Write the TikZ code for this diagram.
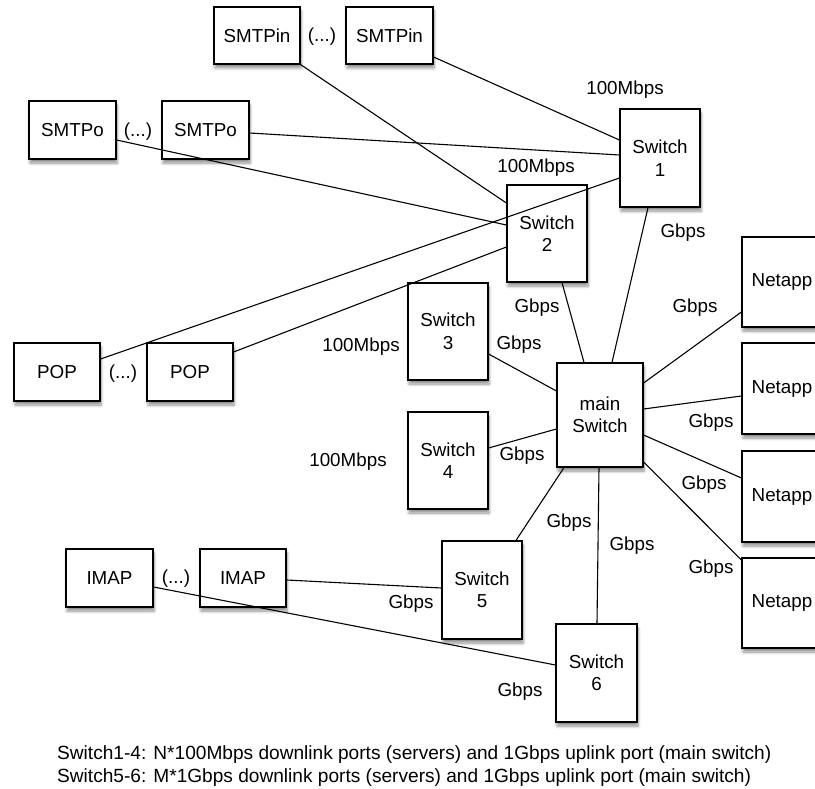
\documentclass[tikz,border=0pt]{standalone}
\usepackage{fontspec}
\setmainfont{Liberation Sans}
\usetikzlibrary{shadows.blur, positioning}
\tikzset{
  Box1/.style = {
    draw, fill = white, line width = 1.2pt, inner sep = 0pt,
    align = center,
    blur shadow = {shadow xshift = 1pt, shadow yshift = -4pt,
      shadow blur steps = 6, shadow blur radius = 3pt, shadow opacity = 45},
  },
  Link1/.style = {
    draw, line width = 1.1pt,
  },
  Label1/.style = {
    inner sep = 0pt,
  }
}

\begin{document}
\begin{tikzpicture}[x = 1pt, y = -1pt,
    every node/.style = {font = \fontsize{18.8}{22.5}\selectfont}]
  \useasboundingbox (0,0) rectangle (815,789);
  \clip (0,0) rectangle (815,789);
  % servers on the left
  \draw
    (257,35.5)node[Box1, minimum width = 86pt, minimum height = 57pt](in1){SMTPin}
    (389.5,35.5)node[Box1, minimum width = 87pt, minimum height = 57pt](in2){SMTPin}
    (322,37)node[Label1](dotsin){(...)}
    (72.5,130)node[Box1, minimum width = 87pt, minimum height = 58pt](po1){SMTPo}
    (205.5,130)node[Box1, minimum width = 87pt, minimum height = 58pt](po2){SMTPo}
    (138,132)node[Label1](dotspo){(...)}
    (57,372)node[Box1, minimum width = 86pt, minimum height = 58pt](pop1){POP}
    (190,372)node[Box1, minimum width = 86pt, minimum height = 58pt](pop2){POP}
    (123,374)node[Label1](dotspop){(...)}
    (109.5,578)node[Box1, minimum width = 87pt, minimum height = 58pt](imap1){IMAP}
    (243,578)node[Box1, minimum width = 86pt, minimum height = 58pt](imap2){IMAP}
    (176,579)node[Label1](dotsimap){(...)};
  % switches
  \draw
    (660,158)node[Box1, minimum width = 80pt, minimum height = 98pt](sw1){Switch\\1}
    (547,233.5)node[Box1, minimum width = 80pt, minimum height = 97pt](sw2){Switch\\2}
    (448,331.5)node[Box1, minimum width = 80pt, minimum height = 97pt](sw3){Switch\\3}
    (448,460.5)node[Box1, minimum width = 80pt, minimum height = 97pt](sw4){Switch\\4}
    (600,415)node[Box1, minimum width = 86pt, minimum height = 104pt](main){main\\Switch}
    (482,590)node[Box1, minimum width = 80pt, minimum height = 98pt](sw5){Switch\\5}
    (596.5,673)node[Box1, minimum width = 81pt, minimum height = 98pt](sw6){Switch\\6};
  % storage
  \draw
    (782,282)node[Box1, minimum width = 80pt, minimum height = 90pt](na1){Netapp}
    (782,388.5)node[Box1, minimum width = 80pt, minimum height = 91pt](na2){Netapp}
    (782,496.5)node[Box1, minimum width = 80pt, minimum height = 91pt](na3){Netapp}
    (782,603)node[Box1, minimum width = 80pt, minimum height = 90pt](na4){Netapp};
  % server links
  \draw[Link1] (in1.south east) -- ([yshift = 30.5pt]sw2.west);
  \draw[Link1] ([yshift = -21.5pt]in2.east) -- ([yshift = 18pt]sw1.west);
  \draw[Link1] ([yshift = -3pt]po2.east) -- ([yshift = 3pt]sw1.west);
  \draw[Link1] ([yshift = -10pt]po1.east) -- ([yshift = 8.5pt]sw2.west);
  \draw[Link1] ([yshift = 13pt]pop1.east) -- ([yshift = -20pt]sw1.west);
  \draw[Link1] ([yshift = 20pt]pop2.east) -- ([yshift = -13.5pt]sw2.west);
  \draw[Link1] ([yshift = -2pt]imap2.east) -- ([yshift = 2pt]sw5.west);
  \draw[Link1] ([yshift = -9pt]imap1.east) -- ([yshift = 8pt]sw6.west);
  % uplinks
  \draw[Link1] ([xshift = -12pt]sw1.south) -- ([xshift = 12pt]main.north);
  \draw[Link1] ([xshift = 15pt]sw2.south) -- ([xshift = -16pt]main.north);
  \draw[Link1] ([yshift = -22.5pt]sw3.east) -- ([yshift = 24pt]main.west);
  \draw[Link1] ([yshift = 12.5pt]sw4.east) -- ([yshift = -14pt]main.west);
  \draw[Link1] ([xshift = -36pt]main.south) -- ([xshift = 34pt]sw5.north);
  \draw[Link1] ([xshift = -1pt]main.south) -- ([xshift = 0.5pt]sw6.north);
  \draw[Link1] ([yshift = -30pt]na1.west) -- ([yshift = 32pt]main.east);
  \draw[Link1] ([yshift = -7.5pt]na2.west) -- ([yshift = 6pt]main.east);
  \draw[Link1] ([yshift = 18.5pt]na3.west) -- ([yshift = -20pt]main.east);
  \draw[Link1] ([yshift = 43pt]na4.west) -- ([yshift = -47pt]main.east);
  % speeds
  \draw
    (625,90)node[Label1](m1){100Mbps}
    (536,168)node[Label1](m2){100Mbps}
    (361,347)node[Label1](m3){100Mbps}
    (348,462)node[Label1](m4){100Mbps}
    (683,233)node[Label1](g1){Gbps}
    (537,308)node[Label1](g2){Gbps}
    (519,345)node[Label1](g3){Gbps}
    (522,456)node[Label1](g4){Gbps}
    (569,523)node[Label1](g5){Gbps}
    (632,546)node[Label1](g6){Gbps}
    (695,308)node[Label1](gn1){Gbps}
    (711,423)node[Label1](gn2){Gbps}
    (704,485)node[Label1](gn3){Gbps}
    (711,569)node[Label1](gn4){Gbps}
    (411,604)node[Label1](g5s){Gbps}
    (520,692)node[Label1](g6s){Gbps};
  % caption
  \node[Label1, anchor = west, align = left,
    font = \fontsize{19.1}{23}\selectfont] (note) at (57,766.5)
    {Switch1-4: N*100Mbps downlink ports (servers) and 1Gbps uplink port (main switch)\\
     Switch5-6: M*1Gbps downlink ports (servers) and 1Gbps uplink port (main switch)};
\end{tikzpicture}
\end{document}
